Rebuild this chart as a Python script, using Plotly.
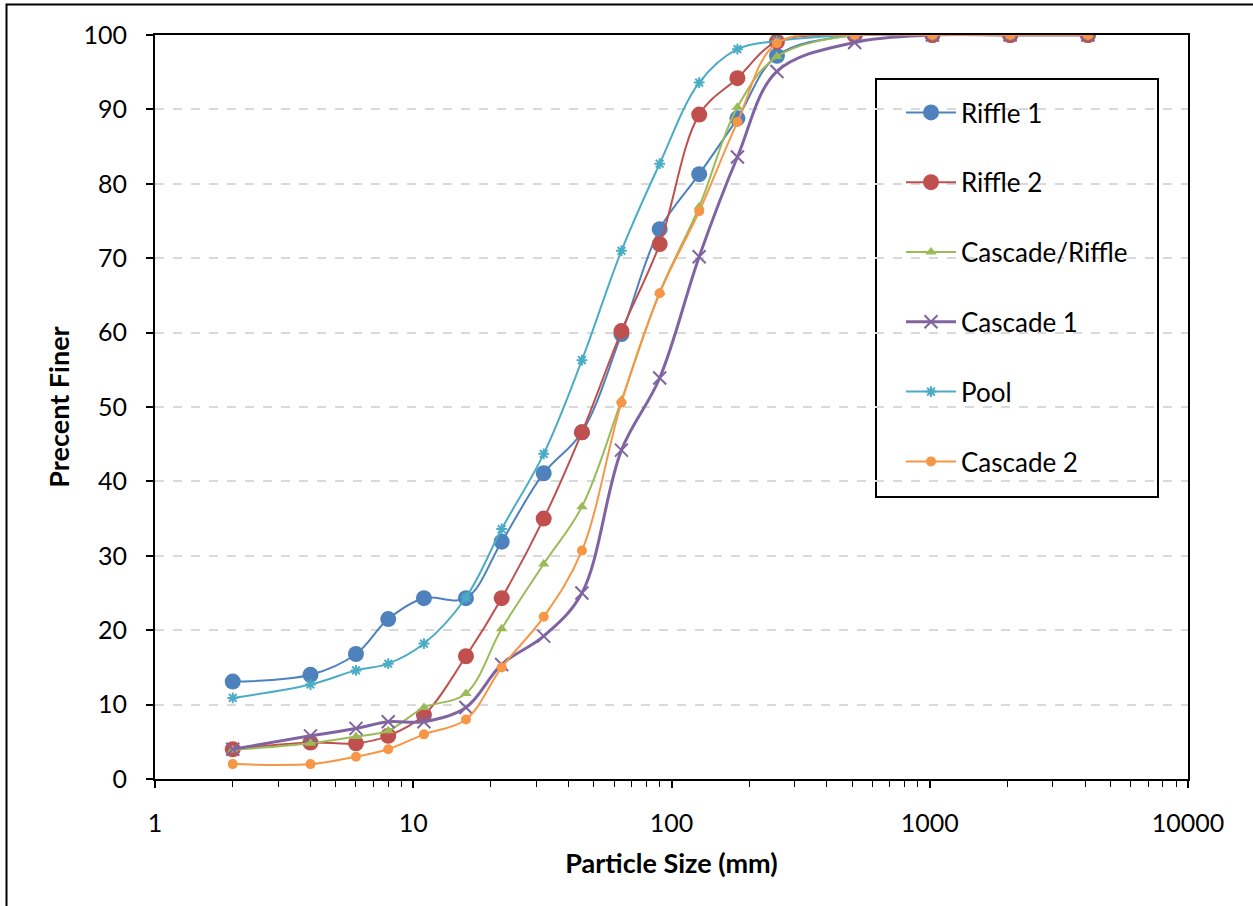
import plotly.graph_objects as go

# ---- data ----
sizes = [2, 4, 6, 8, 11, 16, 22, 32, 45, 64, 90, 128, 180, 256, 512, 1024, 2048, 4096]
riffle1 = [13.1, 14.0, 16.8, 21.5, 24.3, 24.3, 31.9, 41.1, 46.6, 59.8, 73.9, 81.3, 88.8, 97.2, 100, 100, 100, 100]
riffle2 = [4.0, 4.9, 4.8, 5.8, 8.6, 16.5, 24.3, 35.0, 46.6, 60.2, 71.9, 89.3, 94.2, 99.1, 100, 100, 100, 100]
cascade_riffle = [3.9, 4.8, 5.7, 6.5, 9.6, 11.5, 20.2, 28.9, 36.6, 50.9, 65.4, 76.9, 90.3, 97.1, 100, 100, 100, 100]
cascade1 = [4.0, 5.8, 6.8, 7.7, 7.7, 9.6, 15.4, 19.2, 25.0, 44.2, 53.9, 70.2, 83.6, 95.1, 99.0, 100, 100, 100]
pool = [10.9, 12.7, 14.6, 15.5, 18.2, 24.4, 33.6, 43.7, 56.3, 71.0, 82.7, 93.6, 98.1, 99.2, 100, 100, 100, 100]
cascade2 = [2.0, 2.0, 3.0, 4.0, 6.0, 8.0, 15.0, 21.8, 30.7, 50.6, 65.3, 76.3, 88.3, 98.9, 100, 100, 100, 100]

series_names = ["Riffle 1", "Riffle 2", "Cascade/Riffle", "Cascade 1", "Pool", "Cascade 2"]
x_tick_vals = [1, 10, 100, 1000, 10000]
x_tick_text = ["1", "10", "100", "1000", "10000"]

# ---- figure layout geometry (pixels) ----
W, H = 1253, 906
L, R, T, B = 155, 65, 35, 127
PW, PH = W - L - R, H - T - B


def px_x(px):
    return (px - L) / PW


def px_y(py):
    return (H - B - py) / PH


FONT = "Lato"
styles = [
    dict(color="#4F81BD", symbol="circle", size=16, lw=2),
    dict(color="#C0504D", symbol="circle", size=16, lw=2),
    dict(color="#9BBB59", symbol="triangle-up", size=10, lw=2),
    dict(color="#8064A2", symbol="x-thin-open", size=13, lw=3),
    dict(color="#4BACC6", symbol="asterisk-open", size=9, lw=2),
    dict(color="#F79646", symbol="circle", size=10, lw=2),
]
values = [riffle1, riffle2, cascade_riffle, cascade1, pool, cascade2]

fig = go.Figure()
for name, vals, st in zip(series_names, values, styles):
    open_sym = st["symbol"].endswith("open")
    fig.add_trace(go.Scatter(
        x=sizes, y=vals, name=name, mode="lines+markers",
        legendgroup=name,
        line=dict(color=st["color"], width=st["lw"], shape="spline", smoothing=1),
        marker=dict(symbol=st["symbol"], size=st["size"], color=st["color"],
                    line=dict(color=st["color"], width=2 if open_sym else 0)),
    ))

minor_vals = [m * 10 ** e for e in range(0, 4) for m in range(2, 10)]

fig.update_xaxes(
    type="log", range=[0, 4],
    tickvals=x_tick_vals, ticktext=x_tick_text,
    ticks="outside", ticklen=7, tickwidth=1.5, tickcolor="black",
    minor=dict(tickvals=minor_vals, ticks="outside", ticklen=6, tickwidth=1, tickcolor="black", showgrid=False),
    showline=True, linecolor="black", linewidth=2, mirror=True,
    showgrid=False, zeroline=False,
    tickfont=dict(family=FONT, size=25, color="black"),
    ticklabelstandoff=14,
    title=dict(text="<b>Particle Size (mm)</b>", font=dict(family=FONT, size=27, color="black"), standoff=18),
)
fig.update_yaxes(
    range=[0, 100], dtick=10,
    ticks="outside", ticklen=7, tickwidth=1.5, tickcolor="black",
    showline=True, linecolor="black", linewidth=2, mirror=True,
    showgrid=True, gridcolor="#D9D9D9", gridwidth=1.5, griddash="dash",
    zeroline=False,
    tickfont=dict(family=FONT, size=25, color="black"),
    ticklabelstandoff=14,
    title=dict(text="<b>Precent Finer</b>", font=dict(family=FONT, size=27, color="black"), standoff=6),
)

shapes = [
    # legend box
    dict(type="rect", xref="paper", yref="paper",
         x0=px_x(876), x1=px_x(1158), y0=px_y(497), y1=px_y(79),
         line=dict(color="black", width=2), fillcolor="white", layer="below"),
    # outer border (partially cropped in reference)
    dict(type="rect", xref="paper", yref="paper",
         x0=px_x(6.5), x1=px_x(1270), y0=px_y(930), y1=px_y(4.5),
         line=dict(color="black", width=2), fillcolor="rgba(0,0,0,0)"),
]

fig.update_layout(
    width=W, height=H,
    margin=dict(l=L, r=R, t=T, b=B),
    paper_bgcolor="white", plot_bgcolor="white",
    showlegend=True,
    legend=dict(
        x=px_x(901), y=px_y(89), xanchor="left", yanchor="top",
        bgcolor="rgba(0,0,0,0)", borderwidth=0,
        font=dict(family=FONT, size=26, color="black"),
        tracegroupgap=33, itemwidth=50,
    ),
    shapes=shapes,
)

fig.write_html("out.html")
